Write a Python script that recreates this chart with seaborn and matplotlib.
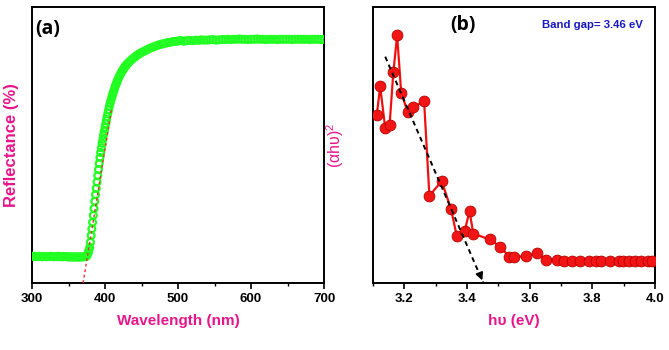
import numpy as np
import pandas as pd
import matplotlib
matplotlib.use("Agg")
import matplotlib.pyplot as plt
import seaborn as sns

# ---------------- data ----------------
# (a) reflectance spectrum
wl_flat = [300, 302, 304, 306, 308, 310, 312, 314, 316, 318, 320, 322, 324, 326, 328,
           330, 332, 334, 336, 338, 340, 342, 344, 346, 348, 350, 352, 354, 356, 358,
           360, 362, 364, 366, 368, 370, 372, 374]
r_flat = [9.7, 9.6, 9.7, 9.6, 9.6, 9.7, 9.6, 9.5, 9.6, 9.6, 9.5, 9.6, 9.6, 9.7, 9.6,
          9.5, 9.6, 9.6, 9.7, 9.6, 9.5, 9.5, 9.6, 9.6, 9.5, 9.4, 9.5, 9.4, 9.5, 9.4,
          9.5, 9.4, 9.4, 9.5, 9.4, 9.5, 9.5, 9.6]
wl_edge = list(range(375, 431))
r_edge = [9.8, 10.3, 11.0, 11.8, 12.9, 14.8, 17.2, 19.6, 22.0, 24.5, 27.0, 29.6, 32.0,
          34.3, 36.6, 38.9, 41.1, 43.3, 45.5, 47.3, 49.0, 50.6, 52.1, 53.6, 55.0, 56.4,
          57.7, 59.0, 60.3, 61.6, 62.8, 64.0, 65.1, 66.1, 67.0, 67.9, 68.8, 69.6, 70.4,
          71.2, 71.9, 72.6, 73.3, 73.9, 74.5, 75.1, 75.6, 76.1, 76.6, 77.0, 77.4, 77.8,
          78.2, 78.6, 78.9, 79.2]
wl_knee = [432, 434, 436, 438, 440, 442, 444, 446, 448, 450, 453, 456, 459, 462, 465,
           468, 471, 474, 477, 480, 483, 486, 489, 492, 495, 498, 501]
r_knee = [79.8, 80.3, 80.8, 81.3, 81.7, 82.1, 82.5, 82.9, 83.2, 83.5, 83.9, 84.3, 84.7,
          85.1, 85.4, 85.7, 86.0, 86.3, 86.5, 86.7, 86.9, 87.1, 87.2, 87.4, 87.5, 87.6, 87.7]
wl_plateau = [504, 508, 512, 516, 520, 524, 528, 532, 536, 540, 544, 548, 552, 556, 560,
              564, 568, 572, 576, 580, 584, 588, 592, 596, 600, 604, 608, 612, 616, 620,
              624, 628, 632, 636, 640, 644, 648, 652, 656, 660, 664, 668, 672, 676, 680,
              684, 688, 692, 696, 700]
r_plateau = [87.9, 87.6, 87.8, 87.9, 87.8, 88.0, 87.9, 88.1, 88.0, 88.0, 88.1, 88.2, 88.0,
             88.1, 88.2, 88.2, 88.3, 88.2, 88.3, 88.3, 88.4, 88.3, 88.3, 88.2, 88.3, 88.3,
             88.4, 88.3, 88.3, 88.2, 88.3, 88.3, 88.3, 88.2, 88.3, 88.3, 88.3, 88.3, 88.2,
             88.3, 88.3, 88.3, 88.3, 88.3, 88.2, 88.3, 88.3, 88.3, 88.2, 88.3]
wavelength = wl_flat + wl_edge + wl_knee + wl_plateau
reflectance = r_flat + r_edge + r_knee + r_plateau

tangent_x = [370, 409]
tangent_y = [0, 63]

# (b) Tauc plot
hv = [3.112, 3.123, 3.139, 3.153, 3.165, 3.177, 3.190, 3.211, 3.229, 3.263, 3.280,
      3.319, 3.349, 3.367, 3.393, 3.408, 3.420, 3.472, 3.506, 3.535, 3.550, 3.587,
      3.623, 3.653, 3.687, 3.711, 3.736, 3.761, 3.789, 3.812, 3.828, 3.855, 3.885,
      3.898, 3.916, 3.935, 3.956, 3.977, 3.990]
ahv2 = [60.9, 71.2, 56.1, 57.3, 76.5, 89.7, 69.0, 61.8, 63.6, 66.0, 31.6, 36.9, 26.8,
        17.2, 19.0, 26.1, 17.9, 15.8, 13.2, 9.4, 9.4, 9.8, 10.7, 8.4, 8.2, 7.8, 7.8,
        7.8, 7.8, 7.8, 7.8, 7.8, 7.8, 7.8, 7.8, 7.8, 7.8, 7.8, 7.8]
fit_x = [3.139, 3.452]
fit_y = [82, 0]

# ---------------- style ----------------
sns.set_theme(style="ticks")
plt.rcParams['font.family'] = ['Liberation Sans', 'DejaVu Sans']
plt.rcParams['mathtext.default'] = 'regular'
plt.rcParams['text.color'] = 'black'
plt.rcParams['xtick.color'] = 'black'
plt.rcParams['xtick.labelcolor'] = 'black'
PINK = '#E8148A'
BLUE = '#1818C0'

fig = plt.figure(figsize=(6.69, 3.5), dpi=100)
ax1 = fig.add_axes([32/669, 67/350, 292/669, 276/350])
ax2 = fig.add_axes([373/669, 67/350, 282/669, 276/350])

df_a = pd.DataFrame({'wl': wavelength, 'R': reflectance})
sns.scatterplot(data=df_a, x='wl', y='R', ax=ax1, marker='o', s=24,
                facecolor='none', edgecolor='#22FF22', linewidth=1.6, zorder=3)
ax1.plot(tangent_x, tangent_y, color='#E03030', ls=(0, (2, 2)), lw=1.0, zorder=4)

df_b = pd.DataFrame({'hv': hv, 'A': ahv2})
sns.lineplot(data=df_b, x='hv', y='A', ax=ax2, color='#F01010', lw=1.6,
             marker='o', markersize=7.8, markerfacecolor='#F21515',
             markeredgecolor='#B80000', markeredgewidth=0.6, sort=False, zorder=3)
ax2.plot(fit_x, fit_y, color='black', ls=(0, (2.5, 2)), lw=1.4, zorder=4)
ax2.annotate('', xy=(fit_x[1], fit_y[1]), xytext=(fit_x[1] - 0.012, fit_y[1] + 3.5),
             arrowprops=dict(arrowstyle='-|>', color='black', lw=1.2,
                             mutation_scale=11), zorder=5)

for ax in (ax1, ax2):
    for s in ax.spines.values():
        s.set_linewidth(1.4)
        s.set_color('black')
    ax.set_ylim(0, 100)
    ax.set_yticks([])
    ax.tick_params(axis='x', which='major', direction='out', length=4, width=1.2,
                   labelsize=9.5, pad=3, colors='black')
    ax.tick_params(axis='x', which='minor', direction='out', length=2.5, width=1.0,
                   colors='black')

ax1.set_xlim(300, 700)
ax1.set_xticks([300, 400, 500, 600, 700])
ax1.set_xticks([350, 450, 550, 650], minor=True)
ax2.set_xlim(3.1, 4.0)
ax2.set_xticks([3.2, 3.4, 3.6, 3.8, 4.0])
ax2.set_xticks([3.1, 3.3, 3.5, 3.7, 3.9], minor=True)
for ax in (ax1, ax2):
    for lbl in ax.get_xticklabels():
        lbl.set_fontweight('bold')
        lbl.set_color('black')

ax1.set_xlabel('Wavelength (nm)', color=PINK, fontsize=11, fontweight='bold', labelpad=7)
ax1.set_ylabel('Reflectance (%)', color=PINK, fontsize=12, fontweight='bold')
ax1.yaxis.set_label_coords(-0.045, 0.5)
ax2.set_xlabel('hυ (eV)', color=PINK, fontsize=11, fontweight='bold', labelpad=7)
ax2.set_ylabel('(αhυ)$^2$', color=PINK, fontsize=11.5)
ax2.yaxis.set_label_coords(-0.095, 0.5)

ax1.text(0.012, 0.92, '(a)', transform=ax1.transAxes, fontsize=14, fontweight='bold',
         color='black', family=['Open Sans', 'DejaVu Sans'], va='center', ha='left')
ax2.text(0.32, 0.935, '(b)', transform=ax2.transAxes, fontsize=14, fontweight='bold',
         color='black', family=['Open Sans', 'DejaVu Sans'], va='center', ha='center')
ax2.text(0.6, 0.935, 'Band gap= 3.46 eV', transform=ax2.transAxes, fontsize=8.2,
         fontweight='bold', color=BLUE, va='center', ha='left')

fig.savefig('out.png', dpi=100)
